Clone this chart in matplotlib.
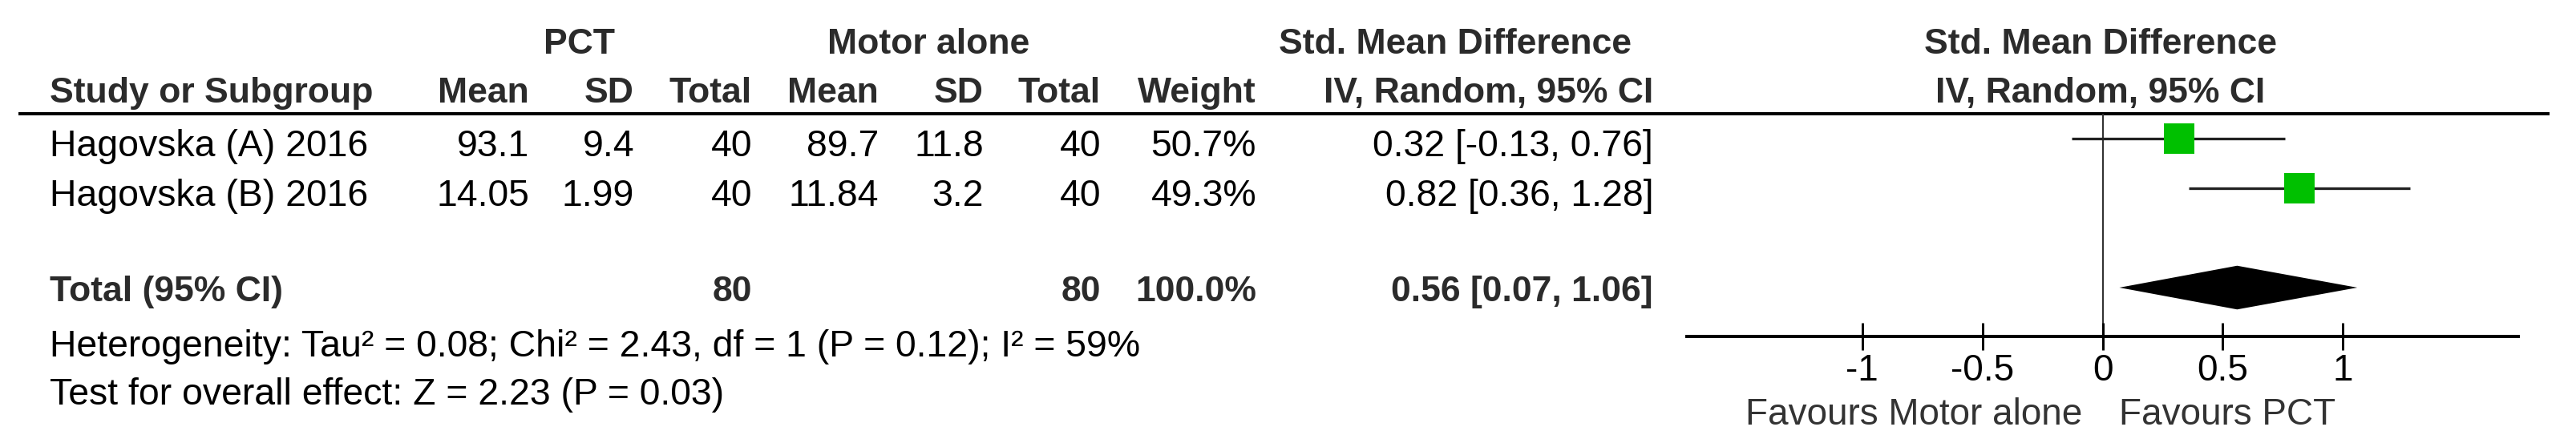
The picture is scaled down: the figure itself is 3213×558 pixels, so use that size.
import matplotlib
matplotlib.use("Agg")
import matplotlib.pyplot as plt

# figure is 3213 x 558 px, layout positions below are in pixels
W, H = 3213, 558
DPI = 100
PT = 72.0 / DPI  # px -> pt

plt.rcParams['font.family'] = ['Liberation Sans', 'DejaVu Sans']

# data
studies = ["Hagovska (A) 2016", "Hagovska (B) 2016"]
pct_mean = [93.1, 14.05]
pct_sd = [9.4, 1.99]
pct_total = [40, 40]
motor_mean = [89.7, 11.84]
motor_sd = [11.8, 3.2]
motor_total = [40, 40]
weights = [50.7, 49.3]
smd = [0.32, 0.82]
ci_lo = [-0.13, 0.36]
ci_hi = [0.76, 1.28]

total_pct = 80
total_motor = 80
total_weight = 100.0
total_smd = 0.56
total_lo = 0.07
total_hi = 1.06

heterogeneity = "Heterogeneity: Tau² = 0.08; Chi² = 2.43, df = 1 (P = 0.12); I² = 59%"
overall = "Test for overall effect: Z = 2.23 (P = 0.03)"
ticks = [-1, -0.5, 0, 0.5, 1]
tick_labels = ["-1", "-0.5", "0", "0.5", "1"]
fav_left = "Favours Motor alone"
fav_right = "Favours PCT"

# layout
row_px0, row_step = 173, 62      # y of first study row, row spacing
top_px, axis_px = 142, 420       # header rule / x axis
ax_left, ax_right = 2104, 3141
text_fs = 33.4
bold_fs = 32
tick_fs = 33
hdr_col = '#2b2b2b'

fig = plt.figure(figsize=(W / DPI, H / DPI), dpi=DPI)

# table layer in pixel coordinates
tab = fig.add_axes([0, 0, 1, 1])
tab.set_xlim(0, W)
tab.set_ylim(H, 0)
tab.axis('off')

def put(x, y, s, ha='right', bold=False, color='black'):
    tab.text(x, y, s, ha=ha, va='baseline',
             fontsize=bold_fs if bold else text_fs,
             fontweight='bold' if bold else 'normal',
             color=hdr_col if bold else color)

# group headers
put(722, 67, "PCT", ha='center', bold=True)
put(1158, 67, "Motor alone", ha='center', bold=True)
put(1815, 67, "Std. Mean Difference", ha='center', bold=True)
put(2620, 67, "Std. Mean Difference", ha='center', bold=True)

cols = [660, 791, 938, 1096, 1227, 1373, 1567, 2062]
put(62, 128, "Study or Subgroup", ha='left', bold=True)
for x, s in zip(cols, ["Mean", "SD", "Total", "Mean", "SD", "Total", "Weight",
                       "IV, Random, 95% CI"]):
    put(x, 128, s, bold=True)
put(2620, 128, "IV, Random, 95% CI", ha='center', bold=True)

tab.plot([23, 3180], [top_px, top_px], color='black', lw=4 * PT,
         solid_capstyle='butt')

for i, name in enumerate(studies):
    y = row_px0 + i * row_step + 22
    put(62, y, name, ha='left')
    vals = [f"{pct_mean[i]:g}", f"{pct_sd[i]:g}", f"{pct_total[i]}",
            f"{motor_mean[i]:g}", f"{motor_sd[i]:g}", f"{motor_total[i]}",
            f"{weights[i]:.1f}%",
            f"{smd[i]:.2f} [{ci_lo[i]:.2f}, {ci_hi[i]:.2f}]"]
    for x, s in zip(cols, vals):
        put(x, y, s)

ty = 376
put(62, ty, "Total (95% CI)", ha='left', bold=True)
put(cols[2], ty, f"{total_pct}", bold=True)
put(cols[5], ty, f"{total_motor}", bold=True)
put(cols[6], ty, f"{total_weight:.1f}%", bold=True)
put(cols[7], ty, f"{total_smd:.2f} [{total_lo:.2f}, {total_hi:.2f}]", bold=True)

put(62, 445, heterogeneity, ha='left')
put(62, 505, overall, ha='left')

# forest plot
ax = fig.add_axes([ax_left / W, (H - axis_px) / H,
                   (ax_right - ax_left) / W, (axis_px - top_px) / H])
ax.patch.set_alpha(0)
ax.set_xlim(-1.73, 1.73)
ax.set_ylim((axis_px - row_px0) / row_step, (top_px - row_px0) / row_step)
for s in ['top', 'left', 'right']:
    ax.spines[s].set_visible(False)
ax.spines['bottom'].set_linewidth(4 * PT)
ax.spines['bottom'].set_color('black')
ax.set_yticks([])
ax.set_xticks(ticks, labels=tick_labels)
ax.tick_params(axis='x', direction='inout', length=34 * PT, width=3 * PT,
               labelsize=tick_fs, pad=3, colors='black')

ax.axvline(0, color='#333333', lw=2.2 * PT, zorder=1)

rows = list(range(len(studies)))
ax.hlines(rows, ci_lo, ci_hi, color='#222222', lw=3.3 * PT, zorder=2)
for r, e, w in zip(rows, smd, weights):
    ax.plot(e, r, marker='s', color='#00c000', markeredgewidth=0,
            markersize=27.5 * (w / 50.0) ** 0.5, zorder=3)

total_row = 3
h = 0.44
ax.fill([total_lo, total_smd, total_hi, total_smd],
        [total_row, total_row - h, total_row, total_row + h],
        color='black', lw=0, zorder=3)

fy = (axis_px - 530) / (axis_px - top_px)
ax.text(-0.083, fy, fav_left, transform=ax.get_xaxis_transform(),
        ha='right', va='baseline', fontsize=tick_fs, color='#333333')
ax.text(0.067, fy, fav_right, transform=ax.get_xaxis_transform(),
        ha='left', va='baseline', fontsize=tick_fs, color='#333333')

fig.savefig("out.png", dpi=DPI)
